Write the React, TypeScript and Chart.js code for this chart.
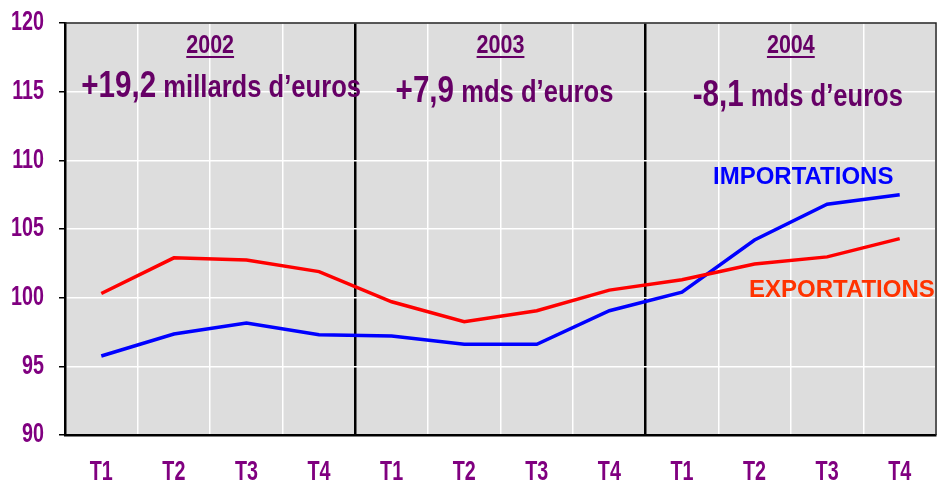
import React, { useEffect, useRef } from "react";
import { Chart, registerables } from "chart.js";

Chart.register(...registerables);

const categories = ["T1", "T2", "T3", "T4", "T1", "T2", "T3", "T4", "T1", "T2", "T3", "T4"];
const exportations = [100.3, 102.9, 102.75, 101.9, 99.7, 98.25, 99.05, 100.55, 101.3, 102.45, 102.97, 104.3];
const importations = [95.75, 97.35, 98.15, 97.3, 97.2, 96.6, 96.6, 99.05, 100.4, 104.2, 106.8, 107.5];
const years = ["2002", "2003", "2004"];
const balanceValues = ["+19,2", "+7,9", "-8,1"];
const balanceUnits = ["millards d’euros", "mds d’euros", "mds d’euros"];

const FONT = '"Liberation Sans", Arial, sans-serif';
const PURPLE = "#800080";
const DARK_PURPLE = "#660066";

function drawScaled(ctx: any, text: string, x: number, y: number, font: string, sx: number, align: string, baseline: string) {
  ctx.save();
  ctx.translate(x, y);
  ctx.scale(sx, 1);
  ctx.font = font;
  ctx.textAlign = align;
  ctx.textBaseline = baseline;
  ctx.fillText(text, 0, 0);
  ctx.restore();
}

function measureScaled(ctx: any, text: string, font: string, sx: number) {
  ctx.save();
  ctx.font = font;
  const w = ctx.measureText(text).width * sx;
  ctx.restore();
  return w;
}

const overlayPlugin = {
  id: "overlay",
  beforeDraw(chart: any) {
    const { ctx, chartArea } = chart;
    ctx.save();
    ctx.fillStyle = "#dddddd";
    ctx.fillRect(chartArea.left, chartArea.top, chartArea.right - chartArea.left, chartArea.bottom - chartArea.top);
    ctx.restore();
  },
  afterDraw(chart: any) {
    const { ctx, chartArea } = chart;
    const xs = chart.scales.x;
    const ys = chart.scales.y;
    ctx.save();
    // top/right frame
    ctx.strokeStyle = "#222";
    ctx.lineWidth = 1.5;
    ctx.beginPath();
    ctx.moveTo(chartArea.left, chartArea.top);
    ctx.lineTo(chartArea.right, chartArea.top);
    ctx.lineTo(chartArea.right, chartArea.bottom);
    ctx.stroke();

    // tick labels
    const tickFont = `bold 27px ${FONT}`;
    ctx.fillStyle = PURPLE;
    ys.ticks.forEach((t: any) => {
      const py = ys.getPixelForValue(t.value);
      drawScaled(ctx, String(t.value), chartArea.left - 21, py, tickFont, 0.73, "right", "middle");
    });
    categories.forEach((c, i) => {
      const px = xs.getPixelForValue(i);
      drawScaled(ctx, c, px, chartArea.bottom + 38, tickFont, 0.73, "center", "middle");
    });

    const offsets = [11, 4, 7];
    const baselines = [97, 102, 106];
    years.forEach((yr, g) => {
      const cx = (xs.getPixelForValue(g * 4) + xs.getPixelForValue(g * 4 + 3)) / 2;
      ctx.fillStyle = DARK_PURPLE;
      const yFont = `bold 25px ${FONT}`;
      drawScaled(ctx, yr, cx, chartArea.top + 30, yFont, 0.86, "center", "alphabetic");
      const w = measureScaled(ctx, yr, yFont, 0.86);
      ctx.strokeStyle = DARK_PURPLE;
      ctx.lineWidth = 2;
      ctx.beginPath();
      ctx.moveTo(cx - w / 2, chartArea.top + 34);
      ctx.lineTo(cx + w / 2, chartArea.top + 34);
      ctx.stroke();

      const bigFont = `bold 37px ${FONT}`;
      const smallFont = `bold 32px ${FONT}`;
      const w1 = measureScaled(ctx, balanceValues[g], bigFont, 0.8);
      const w2 = measureScaled(ctx, " " + balanceUnits[g], smallFont, 0.8);
      const start = cx + offsets[g] - (w1 + w2) / 2;
      drawScaled(ctx, balanceValues[g], start, baselines[g], bigFont, 0.8, "left", "alphabetic");
      drawScaled(ctx, " " + balanceUnits[g], start + w1, baselines[g], smallFont, 0.8, "left", "alphabetic");
    });

    ctx.font = `bold 24px ${FONT}`;
    ctx.textAlign = "left";
    ctx.textBaseline = "alphabetic";
    ctx.fillStyle = "#0000ff";
    ctx.fillText("IMPORTATIONS", 713, 184);
    ctx.fillStyle = "#ff3300";
    ctx.fillText("EXPORTATIONS", 749, 297);
    ctx.restore();
  },
};

export default function App() {
  const ref = useRef<HTMLCanvasElement | null>(null);
  useEffect(() => {
    document.body.style.margin = "0";
    const canvas = ref.current;
    if (!canvas) return;
    const chart = new Chart(canvas, {
      type: "line",
      data: {
        labels: categories,
        datasets: [
          {
            label: "EXPORTATIONS",
            data: exportations,
            borderColor: "#ff0000",
            borderWidth: 3.5,
            pointRadius: 0,
            tension: 0,
          },
          {
            label: "IMPORTATIONS",
            data: importations,
            borderColor: "#0000ff",
            borderWidth: 3.5,
            pointRadius: 0,
            tension: 0,
          },
        ],
      },
      options: {
        animation: false,
        responsive: false,
        maintainAspectRatio: false,
        layout: { padding: { top: 23, right: 1, left: 0, bottom: 0 } },
        plugins: { legend: { display: false }, tooltip: { enabled: false } },
        scales: {
          x: {
            type: "category",
            offset: true,
            afterFit: (s: any) => {
              s.height = 51;
            },
            grid: {
              offset: true,
              drawTicks: false,
              color: (c: any) => (c.index === 4 || c.index === 8 ? "#000000" : "#ffffff"),
              lineWidth: (c: any) => (c.index === 4 || c.index === 8 ? 2.5 : 1.5),
            },
            border: { color: "#000", width: 2.5 },
            ticks: { display: false, autoSkip: false, maxRotation: 0 },
          },
          y: {
            min: 90,
            max: 120,
            afterFit: (s: any) => {
              s.width = 65;
            },
            grid: {
              color: "#ffffff",
              lineWidth: 1.5,
              tickColor: "#000",
              tickLength: 6,
            },
            border: { color: "#000", width: 2.5 },
            ticks: { display: false, stepSize: 5 },
          },
        },
      },
      plugins: [overlayPlugin],
    } as any);
    return () => chart.destroy();
  }, []);
  return (
    <div style={{ width: 937, height: 486 }}>
      <canvas ref={ref} width={937} height={486} style={{ width: 937, height: 486 }} />
    </div>
  );
}
